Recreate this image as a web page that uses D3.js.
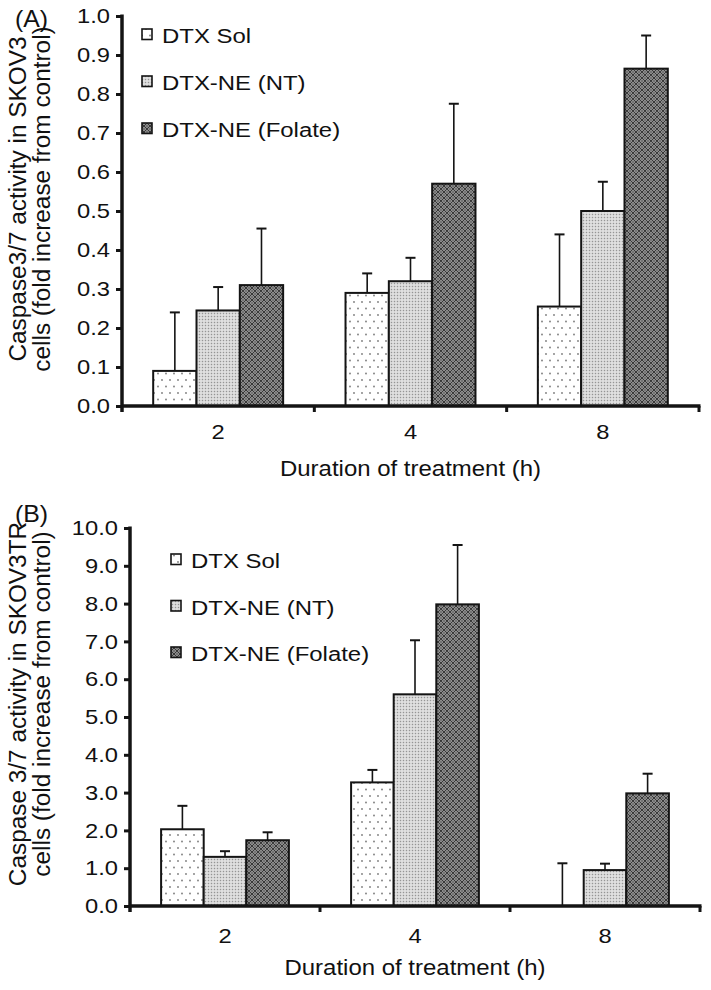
<!DOCTYPE html>
<html><head><meta charset="utf-8">
<script src="https://cdn.jsdelivr.net/npm/d3@7/dist/d3.min.js"></script>
<style>
html,body{margin:0;padding:0;background:#fff;}
svg text{font-family:"Liberation Sans",Arial,Helvetica,sans-serif;fill:#111;}
</style></head>
<body>
<script>
// ---------------- data ----------------
const categories = ["2", "4", "8"];
const seriesNames = ["DTX Sol", "DTX-NE (NT)", "DTX-NE (Folate)"];

// Panel A (SKOV3)
const solA = [0.09, 0.29, 0.255];
const ntA = [0.245, 0.32, 0.50];
const folA = [0.31, 0.57, 0.865];
const errSolA = [0.15, 0.05, 0.185];
const errNtA = [0.06, 0.06, 0.075];
const errFolA = [0.145, 0.205, 0.085];
const ticksA = [0, 0.1, 0.2, 0.3, 0.4, 0.5, 0.6, 0.7, 0.8, 0.9, 1.0];

// Panel B (SKOV3TR)
const solB = [2.03, 3.27, 0];
const ntB = [1.3, 5.6, 0.95];
const folB = [1.74, 7.98, 2.98];
const errSolB = [0.62, 0.33, 1.13];
const errNtB = [0.15, 1.43, 0.17];
const errFolB = [0.21, 1.57, 0.52];
const ticksB = [0, 1, 2, 3, 4, 5, 6, 7, 8, 9, 10];

const xTitle = "Duration of treatment (h)";
const yTitleA = ["Caspase3/7 activity in SKOV3", "cells (fold increase from control)"];
const yTitleB = ["Caspase 3/7 activity in SKOV3TR", "cells (fold increase from control)"];

// ---------------- drawing ----------------
const W = 711, H = 990;
const svg = d3.select("body").append("svg").attr("width", W).attr("height", H);
const INK = "#141414";

const defs = svg.append("defs");
// DTX Sol: sparse dots on white
const p1 = defs.append("pattern").attr("id", "pSol").attr("patternUnits", "userSpaceOnUse")
  .attr("width", 8).attr("height", 13);
p1.append("rect").attr("width", 8).attr("height", 13).attr("fill", "#fff");
p1.append("circle").attr("cx", 2).attr("cy", 3).attr("r", 0.9).attr("fill", "#7a7a7a");
p1.append("circle").attr("cx", 6).attr("cy", 9.5).attr("r", 0.9).attr("fill", "#7a7a7a");
// DTX-NE (NT): fine grey dot grid
const p2 = defs.append("pattern").attr("id", "pNT").attr("patternUnits", "userSpaceOnUse")
  .attr("width", 3).attr("height", 3);
p2.append("rect").attr("width", 3).attr("height", 3).attr("fill", "#e2e2e2");
p2.append("rect").attr("x", 0.8).attr("y", 0.8).attr("width", 1.4).attr("height", 1.4).attr("fill", "#959595");
// DTX-NE (Folate): dark lattice
const p3 = defs.append("pattern").attr("id", "pFol").attr("patternUnits", "userSpaceOnUse")
  .attr("width", 6).attr("height", 6);
p3.append("rect").attr("width", 6).attr("height", 6).attr("fill", "#b4b4b4");
p3.append("path").attr("d", "M0,0L6,6M6,0L0,6").attr("stroke", "#333").attr("stroke-width", 1.15);
p3.append("circle").attr("cx", 3).attr("cy", 0).attr("r", 0.8).attr("fill", "#222");
p3.append("circle").attr("cx", 3).attr("cy", 6).attr("r", 0.8).attr("fill", "#222");
p3.append("circle").attr("cx", 0).attr("cy", 3).attr("r", 0.8).attr("fill", "#222");
p3.append("circle").attr("cx", 6).attr("cy", 3).attr("r", 0.8).attr("fill", "#222");
const fills = ["url(#pSol)", "url(#pNT)", "url(#pFol)"];

function stretchedText(g, x, y, str, size, sx, anchor, rot) {
  return g.append("text")
    .attr("transform", `translate(${x},${y})` + (rot ? ` rotate(${rot})` : "") + ` scale(${sx},1)`)
    .attr("font-size", size).attr("text-anchor", anchor || "start").text(str);
}

function panel(cfg) {
  const g = svg.append("g");
  const x = d3.scaleBand().domain(categories).range([cfg.x0, cfg.x1]).padding(0);
  const xs = d3.scaleBand().domain(seriesNames).range([0, x.bandwidth()])
    .paddingInner(0).paddingOuter(cfg.pad);
  const y = d3.scaleLinear().domain([0, cfg.max]).range([cfg.y0, cfg.y1]);

  const vals = [cfg.sol, cfg.nt, cfg.fol];
  const errs = [cfg.eSol, cfg.eNt, cfg.eFol];
  const rows = [];
  seriesNames.forEach((s, si) => categories.forEach((c, ci) => {
    rows.push({ s, si, c, v: vals[si][ci], e: errs[si][ci] });
  }));

  // error bars
  const eb = g.append("g").attr("stroke", INK).attr("stroke-width", 1.6).attr("fill", "none");
  rows.forEach(d => {
    const cx = x(d.c) + xs(d.s) + xs.bandwidth() / 2;
    eb.append("line").attr("x1", cx).attr("x2", cx).attr("y1", y(d.v)).attr("y2", y(d.v + d.e));
    eb.append("line").attr("x1", cx - 5).attr("x2", cx + 5).attr("y1", y(d.v + d.e)).attr("y2", y(d.v + d.e))
      .attr("stroke-width", 2);
  });

  // bars
  g.append("g").selectAll("rect").data(rows.filter(d => d.v > 0)).join("rect")
    .attr("x", d => x(d.c) + xs(d.s))
    .attr("y", d => y(d.v))
    .attr("width", xs.bandwidth())
    .attr("height", d => y(0) - y(d.v))
    .attr("fill", d => fills[d.si])
    .attr("stroke", INK).attr("stroke-width", 2);

  // y axis
  const ya = g.append("g").attr("transform", `translate(${cfg.x0},0)`)
    .call(d3.axisLeft(y).tickValues(cfg.ticks).tickSize(6).tickSizeOuter(0).tickPadding(6)
      .tickFormat(d3.format(".1f")));
  ya.select(".domain").remove();
  ya.selectAll(".tick line").attr("stroke", INK).attr("stroke-width", 3);
  const sxT = 1.13;
  ya.selectAll(".tick text").attr("font-size", 21).attr("fill", INK)
    .attr("x", -12 / sxT).attr("transform", `scale(${sxT},1)`);
  g.append("line").attr("x1", cfg.x0).attr("x2", cfg.x0)
    .attr("y1", y(0) + 6).attr("y2", y(cfg.max) - 1.5)
    .attr("stroke", INK).attr("stroke-width", 3.5);

  // x axis
  const xa = g.append("g").attr("transform", `translate(0,${cfg.y0})`)
    .call(d3.axisBottom(x).tickSize(0).tickPadding(cfg.xTickPad));
  xa.select(".domain").remove();
  xa.selectAll(".tick text").attr("font-size", 21).attr("fill", INK)
    .attr("transform", `scale(${sxT},1)`);
  g.append("line").attr("x1", cfg.x0).attr("x2", cfg.x1 + 1.5)
    .attr("y1", y(0)).attr("y2", y(0)).attr("stroke", INK).attr("stroke-width", 3.5);
  categories.slice(1).map(c => x(c)).concat([cfg.x1]).forEach(px => {
    g.append("line").attr("x1", px).attr("x2", px).attr("y1", y(0)).attr("y2", y(0) + 6)
      .attr("stroke", INK).attr("stroke-width", 3);
  });

  // titles
  stretchedText(g, (cfg.x0 + cfg.x1) / 2, cfg.xTitleY, xTitle, 22, 1.09, "middle");
  cfg.yTitle.forEach((line, i) => {
    stretchedText(g, cfg.yTitleX[i], cfg.yTitleC, line, 23, 1.06, "middle", -90);
  });
  stretchedText(g, 15, cfg.labelY, cfg.label, 23, 1.08, "start");

  // legend
  seriesNames.forEach((s, i) => {
    const ly = cfg.legY + i * cfg.legStep;
    g.append("rect").attr("x", cfg.legX).attr("y", ly - 14).attr("width", 10).attr("height", 10.5)
      .attr("fill", fills[i]).attr("stroke", INK).attr("stroke-width", 1.6);
    stretchedText(g, cfg.legX + 20, ly, s, 21, 1.14, "start");
  });
}

panel({
  x0: 122, x1: 699, y0: 406, y1: 16, max: 1.0, pad: 0.72, ticks: ticksA, xTickPad: 18,
  sol: solA, nt: ntA, fol: folA, eSol: errSolA, eNt: errNtA, eFol: errFolA,
  xTitleY: 476, yTitle: yTitleA, yTitleX: [26, 50], yTitleC: 199,
  label: "(A)", labelY: 27, legX: 142, legY: 43, legStep: 47
});

panel({
  x0: 130, x1: 700, y0: 906, y1: 528, max: 10, pad: 0.73, ticks: ticksB, xTickPad: 22,
  sol: solB, nt: ntB, fol: folB, eSol: errSolB, eNt: errNtB, eFol: errFolB,
  xTitleY: 975, yTitle: yTitleB, yTitleX: [26, 50], yTitleC: 704,
  label: "(B)", labelY: 522, legX: 171, legY: 568, legStep: 46.5
});
</script>
</body></html>
